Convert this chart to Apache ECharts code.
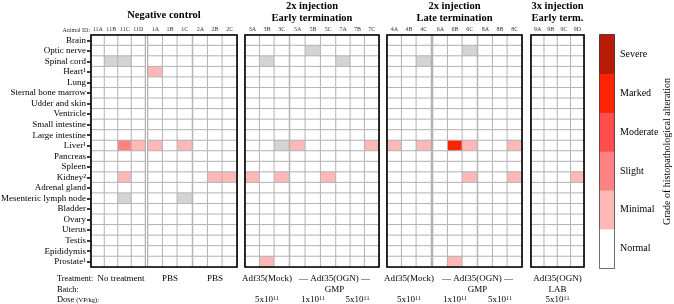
<!DOCTYPE html>
<html>
<head>
<meta charset="utf-8">
<script src="https://cdn.jsdelivr.net/npm/echarts@6/dist/echarts.min.js"></script>
<style>
  html, body { margin: 0; padding: 0; background: #fff; }
  #chart { width: 674px; height: 304px; }
</style>
</head>
<body>
<div id="chart"></div>
<script>
const organs = ['Brain', 'Optic nerve', 'Spinal cord', 'Heart¹', 'Lung', 'Sternal bone marrow', 'Udder and skin',
  'Ventricle', 'Small intestine', 'Large intestine', 'Liver¹', 'Pancreas', 'Spleen', 'Kidney²', 'Adrenal gland',
  'Mesenteric lymph node', 'Bladder', 'Ovary', 'Uterus', 'Testis', 'Epididymis', 'Prostate¹']

const animalGroups = [
  ['11A', '11B', '11C', '11D'], ['1A', '1B', '1C'], ['2A', '2B', '2C'],
  ['3A', '3B', '3C'], ['5A', '5B', '5C'], ['7A', '7B', '7C'],
  ['4A', '4B', '4C'], ['6A', '6B', '6C'], ['8A', '8B', '8C'],
  ['9A', '9B', '9C', '9D']
]

// -1 = grey cell, 1 = minimal, 2 = slight, 4 = marked (all other cells normal)
const findings = [
  ['11B', 'Spinal cord', -1], ['11C', 'Spinal cord', -1], ['11C', 'Liver¹', 2], ['11C', 'Kidney²', 1],
  ['11C', 'Mesenteric lymph node', -1], ['11D', 'Liver¹', 1], ['1A', 'Heart¹', 1], ['1A', 'Liver¹', 1],
  ['1C', 'Liver¹', 1], ['1C', 'Mesenteric lymph node', -1], ['2B', 'Kidney²', 1], ['2C', 'Kidney²', 1],
  ['3A', 'Kidney²', 1], ['3B', 'Spinal cord', -1], ['3B', 'Prostate¹', 1], ['3C', 'Liver¹', -1],
  ['3C', 'Kidney²', 1], ['5A', 'Liver¹', 1], ['5B', 'Optic nerve', -1], ['5C', 'Kidney²', 1],
  ['7A', 'Spinal cord', -1], ['7C', 'Liver¹', 1], ['4A', 'Liver¹', 1], ['4C', 'Spinal cord', -1],
  ['4C', 'Liver¹', 1], ['6B', 'Liver¹', 4], ['6B', 'Prostate¹', 1], ['6C', 'Optic nerve', -1],
  ['6C', 'Liver¹', 1], ['6C', 'Kidney²', 1], ['8C', 'Liver¹', 1], ['8C', 'Kidney²', 1], ['9D', 'Kidney²', 1]
]

const gradeNames = ['Normal', 'Minimal', 'Slight', 'Moderate', 'Marked', 'Severe']
const gradeColors = ['#ffffff', '#ffb8b8', '#ff8282', '#ff4d4d', '#ff2400', '#b81c08']
const greyColor = '#d4d4d4'

const panelTitles = ['Negative control', '2x injection\nEarly termination', '2x injection\nLate termination', '3x injection\nEarly term.']
const panelGroups = [[0, 2], [3, 5], [6, 8], [9, 9]]

const treatmentLabels = ['No treatment', 'PBS', 'PBS', 'Adf35(Mock)', '— Adf35(OGN) —', 'Adf35(Mock)', '— Adf35(OGN) —', 'Adf35(OGN)']
const treatmentSpans = [[0, 0], [1, 1], [2, 2], [3, 3], [4, 5], [6, 6], [7, 8], [9, 9]]
const batchLabels = ['GMP', 'GMP', 'LAB']
const batchSpans = [[4, 5], [7, 8], [9, 9]]
const doseMantissa = ['5', '1', '5', '5', '1', '5', '5']
const doseExponent = ['11', '11', '11', '11', '11', '11', '11']
const doseGroups = [3, 4, 5, 6, 7, 8, 9]

// layout: [left, width] of each animal-group block
const boxes = [[91, 54], [148, 44], [193, 44], [245, 44], [290, 46], [336, 43], [387, 44], [433, 44], [478, 44], [531, 53]]
const TOP = 35, HEIGHT = 232
const FONT = 'Liberation Serif'

const chart = echarts.init(document.getElementById('chart'))

const grids = [], xAxes = [], yAxes = [], series = []

animalGroups.forEach((ids, g) => {
  grids.push({
    left: boxes[g][0], top: TOP, width: boxes[g][1], height: HEIGHT, outerBoundsMode: 'none', containLabel: false,
    show: true, borderColor: '#222', borderWidth: 1, backgroundColor: '#fff'
  })
  xAxes.push({
    type: 'category', gridIndex: g, data: ids, position: 'top',
    axisLine: { show: false }, axisTick: { show: false }, splitLine: { show: false },
    axisLabel: { fontFamily: FONT, fontSize: 6, color: '#333', margin: 3, interval: 0 }
  })
  yAxes.push({
    type: 'category', gridIndex: g, data: organs, inverse: true,
    axisLine: { show: false },
    axisTick: { show: g === 0, length: 4, interval: 0, alignWithLabel: true, lineStyle: { color: '#000', width: 1.5 } },
    axisLabel: { show: g === 0, interval: 0, fontFamily: FONT, fontSize: 9, color: '#000', margin: 5, hideOverlap: false },
    splitLine: { show: false }
  })
  const data = []
  ids.forEach((id, c) => {
    organs.forEach((organ, r) => {
      const f = findings.find(d => d[0] === id && d[1] === organ)
      data.push([c, r, f ? f[2] : 0])
    })
  })
  series.push({
    type: 'heatmap', xAxisIndex: g, yAxisIndex: g, data,
    itemStyle: { borderColor: '#b3b3b3', borderWidth: 1 },
    emphasis: { disabled: true }, silent: true
  })
})

// colour bar
const cb = animalGroups.length
grids.push({ left: 600, top: TOP, width: 14, height: 233, outerBoundsMode: 'none', containLabel: false, show: true, borderColor: '#000', borderWidth: 1.5 })
xAxes.push({ type: 'category', gridIndex: cb, data: [''], show: false })
yAxes.push({
  type: 'category', gridIndex: cb, data: gradeNames, position: 'right',
  axisLine: { show: false },
  axisTick: { show: true, inside: true, length: 3, alignWithLabel: true, lineStyle: { color: '#000' } },
  axisLabel: { fontFamily: FONT, fontSize: 10, color: '#000', margin: 6 },
  name: 'Grade of histopathological alteration', nameLocation: 'middle', nameGap: 43, nameRotate: 90,
  nameTextStyle: { fontFamily: FONT, fontSize: 10, color: '#000' }
})
yAxes.push({
  type: 'category', gridIndex: cb, data: gradeNames, position: 'left',
  axisLine: { show: false }, axisLabel: { show: false },
  axisTick: { show: true, inside: true, length: 3, alignWithLabel: true, lineStyle: { color: '#000' } }
})
series.push({
  type: 'heatmap', xAxisIndex: cb, yAxisIndex: cb,
  data: gradeNames.map((n, i) => [0, i, i]),
  itemStyle: { borderWidth: 0 }, emphasis: { disabled: true }, silent: true
})

const center = span => (boxes[span[0]][0] + boxes[span[1]][0] + boxes[span[1]][1]) / 2
const txt = (x, y, text, opts) => ({
  type: 'text', x, y, silent: true,
  style: Object.assign({ text, fontFamily: FONT, fontSize: 9, fill: '#000', align: 'center', verticalAlign: 'middle' }, opts || {})
})

const graphics = []
panelGroups.forEach((p, i) => {
  const x0 = boxes[p[0]][0], x1 = boxes[p[1]][0] + boxes[p[1]][1]
  graphics.push({ type: 'rect', silent: true, z: 100, shape: { x: x0, y: TOP, width: x1 - x0, height: HEIGHT }, style: { fill: 'none', stroke: '#000', lineWidth: 1.6 } })
  graphics.push(txt((x0 + x1) / 2, panelTitles[i].includes('\n') ? 12 : 15, panelTitles[i], { fontSize: 10.5, fontWeight: 'bold', lineHeight: 12 }))
})
graphics.push(txt(90, 30, 'Animal ID:', { fontSize: 6, align: 'right', fill: '#333' }))
graphics.push(txt(57, 279, 'Treatment:', { align: 'left', fontSize: 8.4 }))
graphics.push(txt(57, 290, 'Batch:', { align: 'left', fontSize: 8.4 }))
graphics.push({
  type: 'text', x: 57, y: 300, silent: true,
  style: { text: 'Dose {u|(VP/kg):}', fontFamily: FONT, fontSize: 8.4, fill: '#000', align: 'left', verticalAlign: 'middle', rich: { u: { fontSize: 6.5, fontFamily: FONT } } }
})
treatmentLabels.forEach((t, i) => graphics.push(txt(center(treatmentSpans[i]) + (i === 0 ? 3 : 0), 279, t)))
batchLabels.forEach((t, i) => graphics.push(txt(center(batchSpans[i]), 290, t)))
doseGroups.forEach((g, i) => {
  graphics.push({
    type: 'text', x: center([g, g]), y: 300, silent: true,
    style: {
      text: doseMantissa[i] + 'x10{s|' + doseExponent[i] + '}', fontFamily: FONT, fontSize: 9, fill: '#000',
      align: 'center', verticalAlign: 'middle', rich: { s: { fontSize: 6, fontFamily: FONT, verticalAlign: 'top' } }
    }
  })
})

const option = {
  animation: false,
  grid: grids,
  xAxis: xAxes,
  yAxis: yAxes,
  visualMap: {
    type: 'piecewise', show: false, dimension: 2,
    seriesIndex: series.map((s, i) => i),
    pieces: [{ value: -1, color: greyColor }].concat(gradeColors.map((c, i) => ({ value: i, color: c })))
  },
  series,
  graphic: graphics
}

chart.setOption(option)
</script>
</body>
</html>
